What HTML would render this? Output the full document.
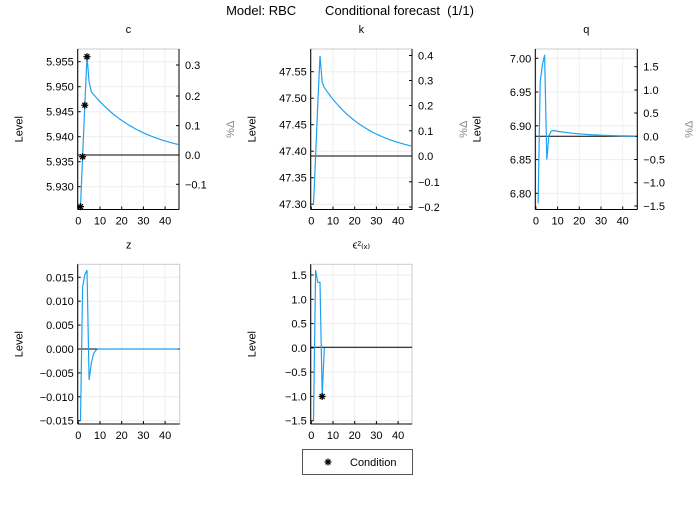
<!DOCTYPE html><html><head><style>body{margin:0;background:#fff}svg{font-family:"Liberation Sans","DejaVu Sans",sans-serif}</style></head><body>
<svg id="s" width="700" height="500" xmlns="http://www.w3.org/2000/svg">
<rect width="700" height="500" fill="#fff"/>
<text x="350" y="15" font-size="13" text-anchor="middle" style="white-space:pre" xml:space="preserve">Model: RBC        Conditional forecast  (1/1)</text>
</svg>
<script>
const S=document.getElementById('s');let h='';
function X(p,x){return p.l+0.6+x*2.17;}
function star(x,y){let s='';for(let i=0;i<4;i++){const a=i*Math.PI/4,dx=3.5*Math.cos(a),dy=3.5*Math.sin(a);s+=`<line x1="${x-dx}" y1="${y-dy}" x2="${x+dx}" y2="${y+dy}" stroke="#000" stroke-width="1.3"/>`;}return s+`<circle cx="${x}" cy="${y}" r="1.6"/>`;}
function panel(p){
 const {l,r,t,b}=p;
 for(let v=0;v<=40;v+=10){const x=X(p,v);h+=`<line x1="${x}" y1="${t}" x2="${x}" y2="${b}" stroke="#eee"/>`;}
 p.yt.forEach(([lab,y])=>{h+=`<line x1="${l}" y1="${y}" x2="${r}" y2="${y}" stroke="#eee"/><line x1="${l}" y1="${y}" x2="${l+3}" y2="${y}" stroke="#000"/><text x="${l-4}" y="${y+4}" font-size="11" text-anchor="end">${lab}</text>`;});
 h+=`<rect x="${l}" y="${t}" width="${r-l}" height="${b-t}" fill="none" stroke="#ccc"/>`;
 h+=`<line x1="${l}" y1="${t}" x2="${l}" y2="${b}" stroke="#000"/><line x1="${l}" y1="${b}" x2="${r}" y2="${b}" stroke="#000"/>`;
 for(let v=0;v<=40;v+=10){const x=X(p,v);h+=`<line x1="${x}" y1="${b}" x2="${x}" y2="${b-3}" stroke="#000"/><text x="${x}" y="${b+15}" font-size="11" text-anchor="middle">${v}</text>`;}
 if(p.rt){h+=`<line x1="${r}" y1="${t}" x2="${r}" y2="${b}" stroke="#000"/>`;p.rt.forEach(([lab,y])=>{h+=`<line x1="${r}" y1="${y}" x2="${r-3}" y2="${y}" stroke="#000"/><text x="${r+6}" y="${y+4}" font-size="11">${lab}</text>`;});
 h+=`<text transform="translate(${r+55},${(t+b)/2}) rotate(-90)" font-size="11" fill="#888" text-anchor="middle">%Δ</text>`;}
 h+=`<text transform="translate(${l-55},${(t+b)/2}) rotate(-90)" font-size="11" text-anchor="middle">Level</text>`;
 h+=`<text x="${(l+r)/2}" y="${t-16}" font-size="11" text-anchor="middle">${p.title}</text>`;
 h+=`<line x1="${l}" y1="${p.base}" x2="${r}" y2="${p.base}" stroke="#000"/>`;
 const pts=p.pts.map(([x,v])=>X(p,x).toFixed(1)+','+p.f(v).toFixed(1)).join(' ');
 h+=`<polyline points="${pts}" fill="none" stroke="#1ea1f2" stroke-width="1.2"/>`;
 (p.stars||[]).forEach(([x,v])=>{h+=star(X(p,x),p.f(v));});
}
function dec(x0,x1,a,c,L){const o=[];for(let x=x0;x<=x1;x++)o.push([x,a+c*Math.exp(-(x-x0)/L)]);return o;}
let fc=v=>61.7+(5.955-v)*5000;
panel({l:77.7,r:179,t:49,b:209.5,title:'c',base:155,f:fc,
 yt:[['5.930',186.7],['5.935',161.7],['5.940',136.7],['5.945',111.7],['5.950',86.7],['5.955',61.7]],
 rt:[['−0.1',184.3],['0.0',155],['0.1',125.6],['0.2',96],['0.3',65]],
 pts:[[1,5.926],[2,5.936],[3,5.9463],[4,5.956],[5,5.951],...dec(6,46,5.936,0.013,24)],
 stars:[[1,5.926],[2,5.936],[3,5.9463],[4,5.956]]});
let fk=v=>71.7+(47.55-v)*530;
panel({l:310.7,r:412,t:49,b:209.5,title:'k',base:156,f:fk,
 yt:[['47.30',204.2],['47.35',177.7],['47.40',151.2],['47.45',124.7],['47.50',98.2],['47.55',71.7]],
 rt:[['−0.2',207],['−0.1',181.8],['0.0',156],['0.1',130.8],['0.2',105.5],['0.3',80.5],['0.4',55.5]],
 pts:[[1,47.30],[2,47.39],[3,47.49],[4,47.58],[5,47.53],...dec(6,46,47.39,0.13,21.4)]});
let fq=v=>58.3+(7.0-v)*675;
panel({l:535.3,r:637.3,t:49,b:209.5,title:'q',base:136.3,f:fq,
 yt:[['6.80',193.3],['6.85',159.6],['6.90',125.8],['6.95',92],['7.00',58.3]],
 rt:[['−1.5',206],['−1.0',182.7],['−0.5',159.5],['0.0',136.3],['0.5',113],['1.0',90],['1.5',66.7]],
 pts:[[1,6.785],[2,6.965],[3,6.99],[4,7.005],[5,6.85],[6,6.885],[7,6.892],...dec(8,46,6.884,0.009,15)]});
let fz=v=>277.3+(0.015-v)*4780;
panel({l:77.7,r:179.7,t:264.3,b:424,title:'z',base:349,f:fz,
 yt:[['−0.015',420.7],['−0.010',396.8],['−0.005',372.9],['0.000',349],['0.005',325.1],['0.010',301.2],['0.015',277.3]],
 pts:[[1,-0.015],[2,0.013],[3,0.0155],[4,0.0165],[5,-0.0065],[6,-0.003],[7,-0.001],[8,-0.0003],[9,0],[46,0]]});
let fe=v=>275+(1.5-v)*48.57;
panel({l:310.7,r:412,t:264.3,b:424,title:'ϵ²₍ₓ₎',base:347.3,f:fe,
 yt:[['−1.5',420.7],['−1.0',396.4],['−0.5',372.1],['0.0',347.9],['0.5',323.6],['1.0',299.3],['1.5',275]],
 pts:[[1,-1.5],[2,1.6],[3,1.35],[4,1.35],[5,-1.0],[6,0]],stars:[[5,-1.0]]});
h+=`<rect x="302.5" y="449.5" width="110" height="25" fill="#fff" stroke="#555"/>`+star(328,462)+`<text x="350" y="466" font-size="11">Condition</text>`;
S.insertAdjacentHTML('beforeend',h);
</script></body></html>
